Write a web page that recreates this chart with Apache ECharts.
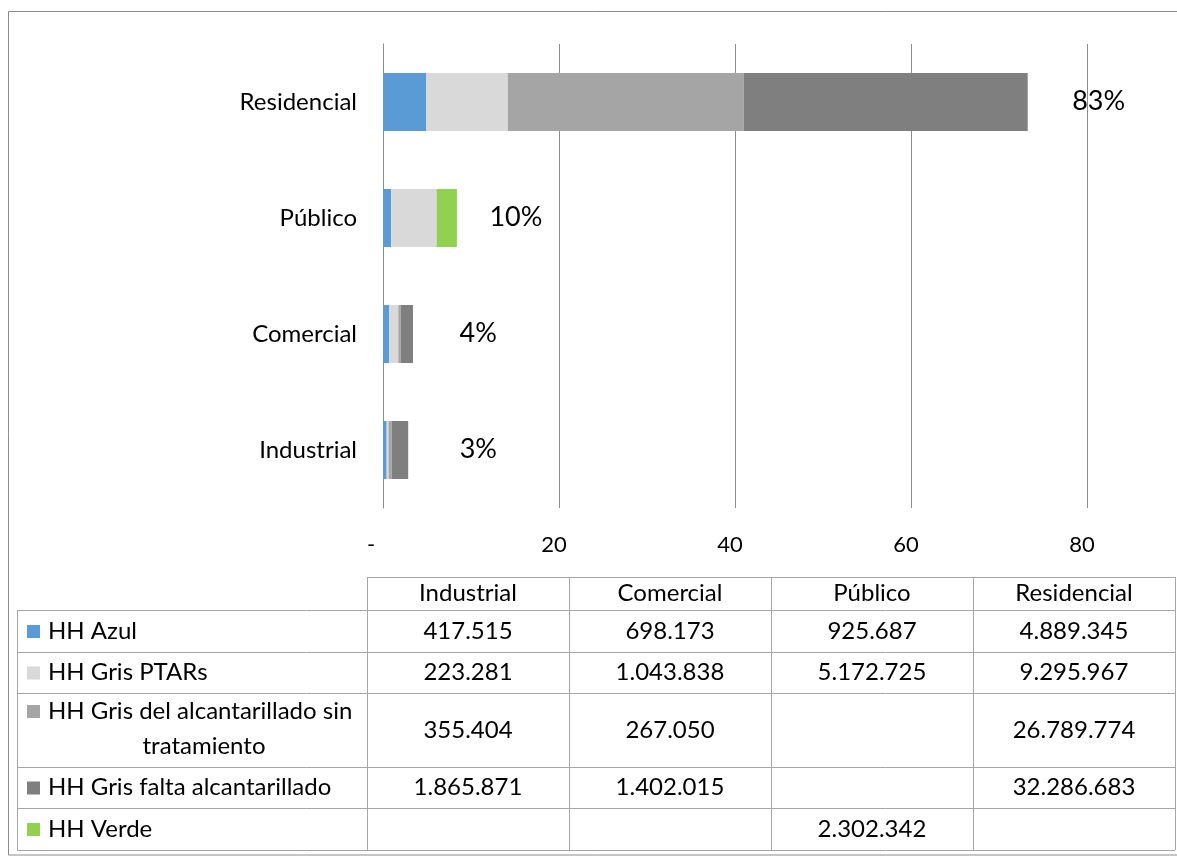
<!DOCTYPE html>
<html>
<head>
<meta charset="utf-8">
<script src="https://cdn.jsdelivr.net/npm/echarts@6/dist/echarts.min.js"></script>
<style>
  html, body { margin: 0; padding: 0; background: #fff; }
  #chart { width: 1177px; height: 858px; }
</style>
</head>
<body>
<div id="chart"></div>
<script>
// Sectors (bottom to top on the bar axis, left to right in the table)
const categories = ['Industrial', 'Comercial', 'Público', 'Residencial'];

// Water footprint components per sector (m³)
const hhAzul        = [417515, 698173, 925687, 4889345];
const hhGrisPtar    = [223281, 1043838, 5172725, 9295967];
const hhGrisSinTrat = [355404, 267050, null, 26789774];
const hhGrisFalta   = [1865871, 1402015, null, 32286683];
const hhVerde       = [null, null, 2302342, null];

const seriesNames = [
  'HH Azul',
  'HH Gris PTARs',
  'HH Gris del alcantarillado sin tratamiento',
  'HH Gris falta alcantarillado',
  'HH Verde'
];
const tableLabels = [
  ['HH Azul'],
  ['HH Gris PTARs'],
  ['HH Gris del alcantarillado sin', 'tratamiento'],
  ['HH Gris falta alcantarillado'],
  ['HH Verde']
];
const seriesValues = [hhAzul, hhGrisPtar, hhGrisSinTrat, hhGrisFalta, hhVerde];
const colors = ['#5B9BD5', '#D9D9D9', '#A5A5A5', '#7F7F7F', '#92D050'];

// Axis ticks (millions of m³)
const xTicks = [0, 20, 40, 60, 80];

const FONT = 'Lato, "Open Sans", sans-serif';
const toMillions = v => (v == null ? null : v / 1e6);
const fmt = v => (v == null ? '' : String(v).replace(/\B(?=(\d{3})+(?!\d))/g, '.'));

const totals = categories.map((_, i) =>
  seriesValues.reduce((s, arr) => s + (arr[i] || 0), 0));
const grandTotal = totals.reduce((a, b) => a + b, 0);

const chart = echarts.init(document.getElementById('chart'), null, { renderer: 'canvas' });

const barSeries = seriesNames.map((name, k) => ({
  name,
  type: 'bar',
  stack: 'hh',
  barWidth: '50%',
  itemStyle: { color: colors[k] },
  data: seriesValues[k].map(toMillions)
}));

// Share of each sector, written past the end of its bar
// (small horizontal nudges keep the labels where they were hand-placed)
const shareLabelNudge = [9, 4, -10, 2];
const shareSeries = {
  type: 'scatter',
  symbolSize: 1,
  silent: true,
  itemStyle: { color: 'rgba(0,0,0,0)' },
  data: totals.map((t, i) => ({
    value: [t / 1e6, i],
    label: { offset: [shareLabelNudge[i], -1] }
  })),
  label: {
    show: true,
    position: 'right',
    distance: 42,
    fontFamily: FONT,
    fontSize: 27,
    color: '#000',
    opacity: 1,
    formatter: p => Math.round(totals[p.dataIndex] / grandTotal * 100) + '%'
  }
};

// ---- data table drawn under the plot ----
const colX = [367, 569, 771, 973, 1175];
const labelColLeft = 17;
const rowY = [577, 610, 652, 693, 767, 808, 850];
const lineColor = '#A6A6A6';
const cellFont = 24;

const graphics = [];
// outer frame of the chart
graphics.push({
  type: 'rect', shape: { x: 8.5, y: 11.5, width: 1180, height: 843.5 },
  style: { fill: null, stroke: '#8C8C8C', lineWidth: 1 }, silent: true
});
// header row lines
graphics.push({ type: 'line', shape: { x1: colX[0], y1: rowY[0] + 0.5, x2: colX[4], y2: rowY[0] + 0.5 }, style: { stroke: lineColor } });
// horizontal body lines
for (let r = 1; r < rowY.length; r++) {
  graphics.push({ type: 'line', shape: { x1: labelColLeft, y1: rowY[r] + 0.5, x2: colX[4], y2: rowY[r] + 0.5 }, style: { stroke: lineColor } });
}
// vertical lines
graphics.push({ type: 'line', shape: { x1: labelColLeft + 0.5, y1: rowY[1], x2: labelColLeft + 0.5, y2: rowY[6] }, style: { stroke: lineColor } });
colX.forEach(x => {
  graphics.push({ type: 'line', shape: { x1: x + 0.5, y1: rowY[0], x2: x + 0.5, y2: rowY[6] }, style: { stroke: lineColor } });
});
// header texts
categories.forEach((c, j) => {
  graphics.push({
    type: 'text',
    style: {
      text: c, x: (colX[j] + colX[j + 1]) / 2, y: (rowY[0] + rowY[1]) / 2,
      align: 'center', verticalAlign: 'middle', fontFamily: FONT, fontSize: cellFont, fill: '#000'
    }
  });
});
// body rows
seriesNames.forEach((name, k) => {
  const top = rowY[k + 1], bottom = rowY[k + 2];
  const midY = (top + bottom) / 2;
  const lines = tableLabels[k];
  const lineH = 35;
  const firstY = lines.length > 1 ? top + 18 : midY;
  // legend key
  graphics.push({
    type: 'rect', shape: { x: 27, y: firstY - 6, width: 13, height: 13 },
    style: { fill: colors[k] }
  });
  lines.forEach((ln, li) => {
    graphics.push({
      type: 'text',
      style: li === 0
        ? { text: ln, x: 48, y: firstY, align: 'left', verticalAlign: 'middle', fontFamily: FONT, fontSize: cellFont, fill: '#000' }
        : { text: ln, x: 204, y: firstY + lineH * li, align: 'center', verticalAlign: 'middle', fontFamily: FONT, fontSize: cellFont, fill: '#000' }
    });
  });
  categories.forEach((c, j) => {
    graphics.push({
      type: 'text',
      style: {
        text: fmt(seriesValues[k][j]), x: (colX[j] + colX[j + 1]) / 2, y: midY,
        align: 'center', verticalAlign: 'middle', fontFamily: FONT, fontSize: cellFont, fill: '#000'
      }
    });
  });
});

chart.setOption({
  animation: false,
  backgroundColor: '#fff',
  grid: { left: 383, right: 90, top: 44, bottom: 350, containLabel: false },
  xAxis: {
    type: 'value',
    min: xTicks[0],
    max: xTicks[xTicks.length - 1],
    interval: xTicks[1] - xTicks[0],
    axisLine: { show: false },
    axisTick: { show: false },
    splitLine: { show: true, lineStyle: { color: '#8C8C8C', width: 1 } },
    axisLabel: {
      margin: 26,
      fontFamily: FONT, fontSize: 22, color: '#000',
      padding: [0, 10, 0, 0],
      formatter: v => (v === 0 ? '{dash|-}' : String(v)),
      rich: { dash: { fontFamily: FONT, fontSize: 22, color: '#000', padding: [0, 14, 0, 0] } }
    }
  },
  yAxis: {
    type: 'category',
    data: categories,
    axisLine: { show: true, lineStyle: { color: '#8C8C8C', width: 1 } },
    axisTick: { show: false },
    axisLabel: { margin: 26, fontFamily: FONT, fontSize: 24, color: '#000' }
  },
  series: [...barSeries, shareSeries],
  graphic: graphics
});
</script>
</body>
</html>
